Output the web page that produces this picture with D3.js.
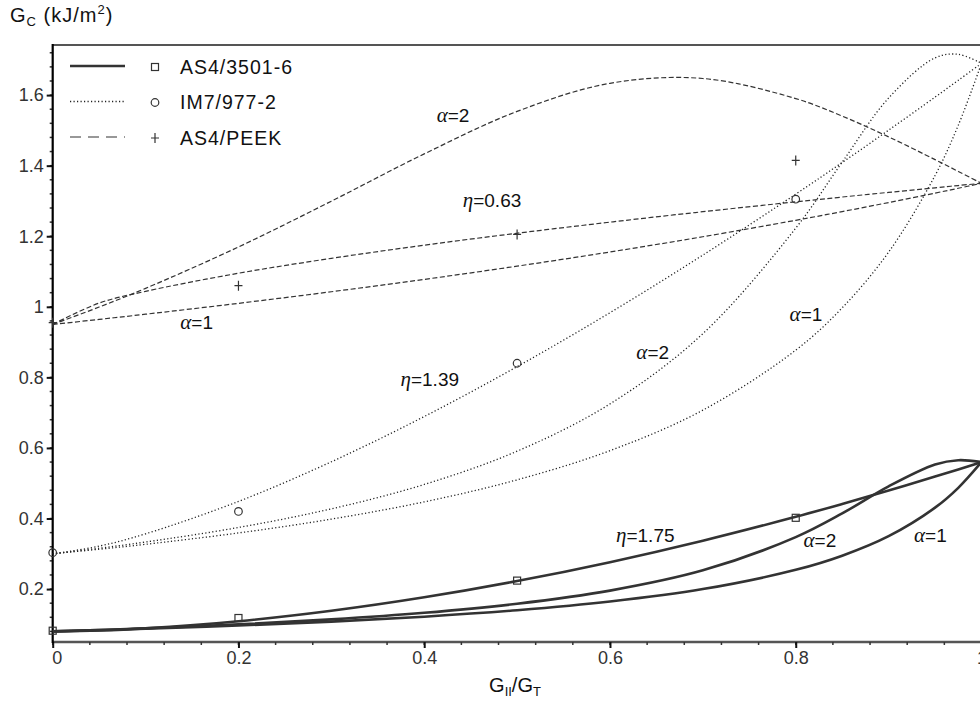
<!DOCTYPE html>
<html>
<head>
<meta charset="utf-8">
<script src="https://cdn.jsdelivr.net/npm/d3@7"></script>
<style>
  body { margin: 0; background: #fff; }
  text { font-family: "Liberation Sans", Arial, sans-serif; }
  .greek { font-family: "Liberation Serif", "DejaVu Serif", serif; font-style: italic; }
</style>
</head>
<body>
<div id="chart-container"></div>
<script>
// mode ratio G_II/G_T shared by all curves
let gRatio = [0, 0.05, 0.1, 0.2, 0.3, 0.4, 0.5, 0.6, 0.7, 0.8, 0.85, 0.9, 0.95, 0.975, 1];

// AS4/3501-6
let as4_3501_eta = [0.080, 0.0825, 0.0885, 0.1087, 0.1384, 0.1766, 0.2227, 0.2763, 0.3371, 0.4048, 0.4412, 0.4792, 0.5188, 0.5392, 0.560];
let as4_3501_a2  = [0.080, 0.0842, 0.0889, 0.0999, 0.1141, 0.1327, 0.1584, 0.1956, 0.2530, 0.3473, 0.4145, 0.4912, 0.5531, 0.5653, 0.560];
let as4_3501_a1  = [0.080, 0.0836, 0.0875, 0.0966, 0.1077, 0.1217, 0.1400, 0.1647, 0.2000, 0.2546, 0.2947, 0.3500, 0.4308, 0.4870, 0.560];
// IM7/977-2
let im7_eta = [0.300, 0.3216, 0.3566, 0.4484, 0.5607, 0.6890, 0.8304, 0.9833, 1.1466, 1.3193, 1.4089, 1.5006, 1.5943, 1.6419, 1.690];
let im7_a2  = [0.300, 0.3158, 0.3333, 0.3746, 0.4273, 0.4965, 0.5908, 0.7248, 0.9239, 1.2230, 1.4100, 1.5917, 1.7056, 1.7155, 1.690];
let im7_a1  = [0.300, 0.3129, 0.3269, 0.3591, 0.3983, 0.4471, 0.5096, 0.5923, 0.7071, 0.8772, 0.9971, 1.1549, 1.3721, 1.5146, 1.690];
// AS4/PEEK
let peek_eta = [0.950, 1.0106, 1.0438, 1.0951, 1.1373, 1.1746, 1.2085, 1.2399, 1.2695, 1.2975, 1.3111, 1.3243, 1.3373, 1.3437, 1.350];
let peek_a2  = [0.950, 0.9993, 1.0523, 1.1695, 1.2993, 1.4334, 1.5538, 1.6334, 1.6471, 1.5901, 1.5405, 1.4816, 1.4171, 1.3837, 1.350];
let peek_a1  = [0.950, 0.9643, 0.9790, 1.0098, 1.0427, 1.0777, 1.1152, 1.1554, 1.1986, 1.2452, 1.2698, 1.2955, 1.3222, 1.3359, 1.350];

// test points
let testX = [0, 0.2, 0.5, 0.8];
let as4_3501_test = [0.082, 0.118, 0.224, 0.402];
let im7_test = [0.303, 0.42, 0.84, 1.305];
let peek_test = [0.955, 1.06, 1.205, 1.415];

let materials = ["AS4/3501-6", "IM7/977-2", "AS4/PEEK"];

let xTicks = [0, 0.2, 0.4, 0.6, 0.8, 1];
let yTicks = [0.2, 0.4, 0.6, 0.8, 1, 1.2, 1.4, 1.6];

let W = 980, H = 705;
let svg = d3.select("#chart-container").append("svg")
    .attr("width", W).attr("height", H);

let x = d3.scaleLinear().domain([0, 1]).range([52.7, 981.5]);
let y = d3.scaleLinear().domain([0.05, 1.742]).range([642, 45]);

// line styles per material
let styles = [
    {stroke: "#333", width: 2.6, dash: null},
    {stroke: "#222", width: 1.3, dash: "1.2,2.3"},
    {stroke: "#333", width: 1.2, dash: "5,2.5"}
];

let curves = [
    {data: as4_3501_eta, m: 0}, {data: as4_3501_a2, m: 0}, {data: as4_3501_a1, m: 0},
    {data: im7_eta, m: 1}, {data: im7_a2, m: 1}, {data: im7_a1, m: 1},
    {data: peek_eta, m: 2}, {data: peek_a2, m: 2}, {data: peek_a1, m: 2}
];

// frame
svg.append("line").attr("x1", x(0)).attr("x2", W).attr("y1", 45).attr("y2", 45)
    .attr("stroke", "#555").attr("stroke-width", 2);
svg.append("line").attr("x1", x(0)).attr("x2", W).attr("y1", y(0.05)).attr("y2", y(0.05))
    .attr("stroke", "#555").attr("stroke-width", 2.5);

// minor ticks
let minorX = d3.range(0, 1.001, 0.04);
svg.append("g").selectAll("line").data(minorX).enter().append("line")
    .attr("x1", d => x(d)).attr("x2", d => x(d))
    .attr("y1", y(0.05)).attr("y2", y(0.05) + 3)
    .attr("stroke", "#333").attr("stroke-width", 1.5);
let minorY = d3.range(0.08, 1.74, 0.04);
svg.append("g").selectAll("line").data(minorY).enter().append("line")
    .attr("x1", x(0) - 3).attr("x2", x(0))
    .attr("y1", d => y(d)).attr("y2", d => y(d))
    .attr("stroke", "#333").attr("stroke-width", 1.5);

// x axis
let xAxis = svg.append("g")
    .attr("transform", "translate(0," + y(0.05) + ")")
    .call(d3.axisBottom(x).tickValues(xTicks).tickSize(6).tickSizeOuter(0)
        .tickFormat(d => String(d)));
xAxis.select(".domain").remove();
xAxis.selectAll(".tick line").attr("stroke", "#111").attr("stroke-width", 2);
xAxis.selectAll(".tick text").attr("font-size", 18).attr("fill", "#333").attr("dy", "0.72em")
    .attr("font-family", "Liberation Sans, Arial, sans-serif")
    .attr("dx", d => d === 0 ? 4 : 0);

// y axis
let yAxis = svg.append("g")
    .attr("transform", "translate(" + x(0) + ",0)")
    .call(d3.axisLeft(y).tickValues(yTicks).tickSize(6).tickSizeOuter(0)
        .tickFormat(d => String(d)));
yAxis.select(".domain").remove();
yAxis.selectAll(".tick line").attr("stroke", "#111").attr("stroke-width", 2);
yAxis.selectAll(".tick text").attr("font-size", 18).attr("fill", "#333").attr("x", -9)
    .attr("font-family", "Liberation Sans, Arial, sans-serif");
svg.append("line").attr("x1", x(0)).attr("x2", x(0)).attr("y1", 44).attr("y2", y(0.05) + 1)
    .attr("stroke", "#000").attr("stroke-width", 2.2);

// curves
let line = d3.line()
    .x((d, i) => x(gRatio[i]))
    .y(d => y(d))
    .curve(d3.curveCatmullRom);

curves.forEach(c => {
    let s = styles[c.m];
    svg.append("path")
        .attr("d", line(c.data))
        .attr("fill", "none")
        .attr("stroke", s.stroke)
        .attr("stroke-width", s.width)
        .attr("stroke-dasharray", s.dash);
});

// markers
function drawMarker(g, m, cx, cy) {
    if (m === 0) {
        g.append("rect").attr("x", cx - 3.5).attr("y", cy - 3.5).attr("width", 7).attr("height", 7)
            .attr("fill", "none").attr("stroke", "#333").attr("stroke-width", 1.2);
    } else if (m === 1) {
        g.append("circle").attr("cx", cx).attr("cy", cy).attr("r", 3.8)
            .attr("fill", "none").attr("stroke", "#333").attr("stroke-width", 1.2);
    } else {
        g.append("path").attr("d", "M" + (cx - 4) + "," + cy + "H" + (cx + 4) + "M" + cx + "," + (cy - 5) + "V" + (cy + 5))
            .attr("stroke", "#333").attr("stroke-width", 1.2);
    }
}
let markerG = svg.append("g");
[as4_3501_test, im7_test, peek_test].forEach((vals, m) => {
    vals.forEach((v, i) => drawMarker(markerG, m, x(testX[i]), y(v)));
});

// legend
let legend = svg.append("g");
materials.forEach((name, i) => {
    let ly = 66 + i * 35.5;
    let s = styles[i];
    legend.append("line").attr("x1", 70).attr("x2", 125).attr("y1", ly).attr("y2", ly)
        .attr("stroke", s.stroke).attr("stroke-width", s.width)
        .attr("stroke-dasharray", i === 2 ? "11,7" : s.dash);
    drawMarker(legend, i, 155, ly + 1);
    legend.append("text").attr("x", 180).attr("y", ly + 1).attr("dy", "0.35em")
        .attr("font-size", 19.5).attr("letter-spacing", 1).attr("fill", "#111").text(name);
});

// curve annotations
let annotations = [
    {g: "α", t: "=2", x: 0.431, y: 1.544},
    {g: "η", t: "=0.63", x: 0.473, y: 1.303},
    {g: "α", t: "=1", x: 0.155, y: 0.957},
    {g: "η", t: "=1.39", x: 0.406, y: 0.793},
    {g: "α", t: "=2", x: 0.646, y: 0.872},
    {g: "α", t: "=1", x: 0.811, y: 0.980},
    {g: "η", t: "=1.75", x: 0.638, y: 0.353},
    {g: "α", t: "=2", x: 0.826, y: 0.339},
    {g: "α", t: "=1", x: 0.945, y: 0.353}
];
annotations.forEach(a => {
    let t = svg.append("text").attr("x", x(a.x)).attr("y", y(a.y)).attr("dy", "0.35em")
        .attr("text-anchor", "middle").attr("font-size", 19).attr("fill", "#111");
    t.append("tspan").attr("class", "greek").attr("font-size", 21).text(a.g);
    t.append("tspan").text(a.t);
});

// axis titles
let yt = svg.append("text").attr("x", 10).attr("y", 22).attr("font-size", 20)
    .attr("letter-spacing", 1).attr("fill", "#111");
yt.append("tspan").text("G");
yt.append("tspan").attr("font-size", 13).attr("dy", 4).text("C");
yt.append("tspan").attr("dy", -4).text(" (kJ/m");
yt.append("tspan").attr("font-size", 13).attr("dy", -8).text("2");
yt.append("tspan").attr("dy", 8).text(")");

let xt = svg.append("text").attr("x", 515).attr("y", 692).attr("text-anchor", "middle")
    .attr("font-size", 20).attr("fill", "#111");
xt.append("tspan").text("G");
xt.append("tspan").attr("font-size", 13).attr("dy", 4).text("II");
xt.append("tspan").attr("dy", -4).text("/G");
xt.append("tspan").attr("font-size", 13).attr("dy", 4).text("T");
</script>
</body>
</html>
